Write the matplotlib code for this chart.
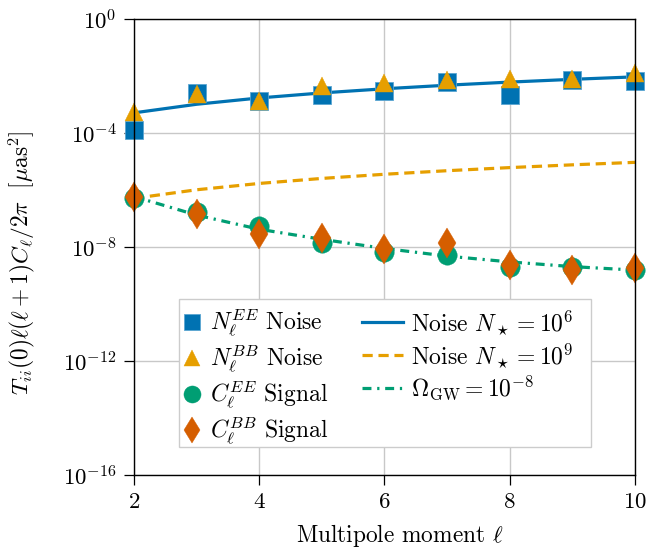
import matplotlib
matplotlib.use("Agg")
import matplotlib.pyplot as plt
from matplotlib.patches import Rectangle

plt.rcParams['font.family'] = ['cmr10', 'DejaVu Serif']
plt.rcParams['mathtext.fontset'] = 'cm'
plt.rcParams['axes.formatter.use_mathtext'] = True
plt.rcParams['axes.unicode_minus'] = True

# ---- data ----
ell = [2, 3, 4, 5, 6, 7, 8, 9, 10]
N_EE = [1.3e-4, 2.45e-3, 1.3e-3, 2.1e-3, 2.95e-3, 6.3e-3, 2.1e-3, 7.2e-3, 6.9e-3]
N_BB = [5.5e-4, 2.4e-3, 1.3e-3, 4.3e-3, 5.6e-3, 7.1e-3, 8.1e-3, 8.1e-3, 1.29e-2]
C_EE = [5.4e-7, 1.66e-7, 5.5e-8, 1.35e-8, 6.5e-9, 5.2e-9, 2.05e-9, 2.05e-9, 1.55e-9]
C_BB = [5.6e-7, 1.45e-7, 2.9e-8, 2.0e-8, 8.5e-9, 1.4e-8, 2.35e-9, 1.55e-9, 1.78e-9]
noise_1e6 = [5.1e-4, 1.02e-3, 1.7e-3, 2.55e-3, 3.57e-3, 4.76e-3, 6.12e-3, 7.65e-3, 9.35e-3]
noise_1e9 = [5.1e-7, 1.02e-6, 1.7e-6, 2.55e-6, 3.57e-6, 4.76e-6, 6.12e-6, 7.65e-6, 9.35e-6]
omega_gw = [5.9e-7, 1.32e-7, 4.2e-8, 1.86e-8, 8.9e-9, 4.8e-9, 3.0e-9, 2.05e-9, 1.55e-9]

xticks = [2, 4, 6, 8, 10]
yticks = [1e-16, 1e-12, 1e-8, 1e-4, 1e0]

blue = '#0072B2'
orange = '#E69F00'
green = '#009E73'
verm = '#D55E00'

fig = plt.figure(figsize=(6.62, 5.48), dpi=100)
ax = fig.add_axes([0.2024, 0.1332, 0.7568, 0.8321])

ax.set_yscale('log')
ax.set_xlim(2, 10)
ax.set_ylim(1e-16, 1e0)
ax.set_xticks(xticks)
ax.set_yticks(yticks)
ax.minorticks_off()
ax.grid(True, color='#c8c8c8', linewidth=1.0, zorder=0)
ax.set_axisbelow(True)

l1, = ax.plot(ell, noise_1e6, color=blue, lw=2.3, zorder=2, label=r'Noise $N_\star = 10^6$')
l2, = ax.plot(ell, noise_1e9, color=orange, lw=2.3, dashes=(3.2, 1.8), zorder=2,
              label=r'Noise $N_\star = 10^9$')
l3, = ax.plot(ell, omega_gw, color=green, lw=2.3, dashes=(2.8, 1.8, 0.7, 1.8), zorder=2,
              label=r'$\Omega_{\rm GW} = 10^{-8}$')

m1, = ax.plot(ell, N_EE, ls='none', marker='s', ms=13.5, color=blue, mec='#5aa5d2', mew=0.6,
              zorder=3, clip_on=False, label=r'$N_\ell^{EE}$ Noise')
m2, = ax.plot(ell, N_BB, ls='none', marker='^', ms=13, color=orange, mec=orange, mew=0.3,
              zorder=4, clip_on=False, label=r'$N_\ell^{BB}$ Noise')
m3, = ax.plot(ell, C_EE, ls='none', marker='o', ms=14, color=green, mec=green, mew=0.3,
              zorder=3, clip_on=False, label=r'$C_\ell^{EE}$ Signal')
m4, = ax.plot(ell, C_BB, ls='none', marker='d', ms=15, color=verm, mec=verm, mew=0.3,
              zorder=4, clip_on=False, label=r'$C_\ell^{BB}$ Signal')

for s in ax.spines.values():
    s.set_linewidth(1.0)
    s.set_color('black')
    s.set_zorder(6)

ax.tick_params(axis='both', which='major', direction='out', length=7.5, width=0.9,
               labelsize=16.5, pad=5, top=False, right=False)

ax.set_xlabel(r'Multipole moment $\ell$', fontsize=16.8)
ax.xaxis.set_label_coords(0.531, -0.102)
ax.set_ylabel(r'$T_{ii}(0)\ell(\ell+1)C_\ell/2\pi\ \ [\mu\mathrm{as}^2]$', fontsize=16.8)
ax.yaxis.set_label_coords(-0.194, 0.466)

def axc(px, py):
    return ((px - 134) / 501.0, (475 - py) / 456.0)

# legend frame
fx0, fy0 = axc(179, 447)
fx1, fy1 = axc(591, 299)
frame = Rectangle((fx0, fy0), fx1 - fx0, fy1 - fy0, transform=ax.transAxes,
                  facecolor='white', edgecolor='#cccccc', lw=1.0, zorder=5, clip_on=False)
ax.add_patch(frame)

leg1 = ax.legend(handles=[m1, m2, m3, m4], loc='upper left', bbox_to_anchor=axc(178, 303),
                 frameon=False, fontsize=17, handlelength=0.8, handletextpad=0.35,
                 labelspacing=0.18, borderpad=0.2, markerscale=0.88, borderaxespad=0)
leg1.set_zorder(7)
ax.add_artist(leg1)
leg2 = ax.legend(handles=[l1, l2, l3], loc='upper left', bbox_to_anchor=axc(357, 303),
                 frameon=False, fontsize=17, handlelength=1.75, handletextpad=0.35,
                 labelspacing=0.18, borderpad=0.2, borderaxespad=0)
leg2.set_zorder(7)

fig.savefig('out.png', dpi=100)
